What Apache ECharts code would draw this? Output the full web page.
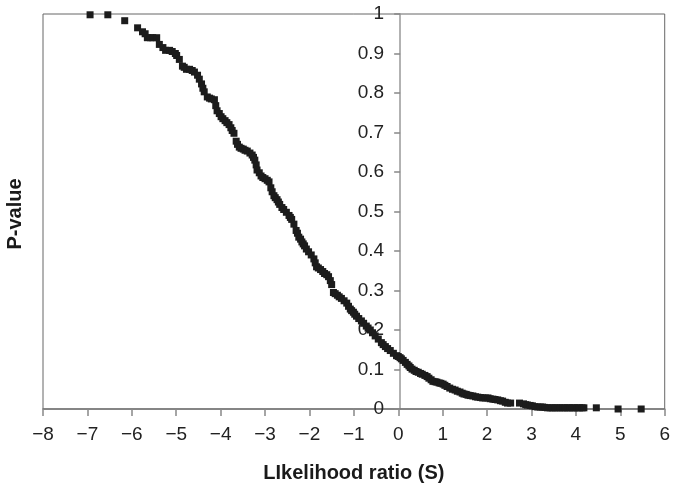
<!DOCTYPE html>
<html>
<head>
<meta charset="utf-8">
<script src="https://cdn.jsdelivr.net/npm/echarts@6/dist/echarts.min.js"></script>
<style>
html,body{margin:0;padding:0;background:#fff;}
#chart{width:673px;height:488px;}
</style>
</head>
<body>
<div id="chart"></div>
<script>
var xTitle = 'LIkelihood ratio (S)';
var yTitle = 'P-value';
var likelihoodRatio = [
-6.94,-6.54,-6.16,-5.87,-5.76,-5.70,-5.65,-5.58,-5.53,-5.44,-5.38,-5.30,-5.24,-5.15,-5.09,-5.02,-4.99,-4.93,-4.86,-4.82,
-4.77,-4.70,-4.64,-4.59,-4.52,-4.48,-4.43,-4.40,-4.37,-4.30,-4.25,-4.21,-4.14,-4.11,-4.08,-4.03,-3.99,-3.95,-3.90,-3.86,
-3.81,-3.77,-3.74,-3.70,-3.65,-3.62,-3.58,-3.54,-3.49,-3.45,-3.40,-3.34,-3.29,-3.26,-3.23,-3.20,-3.18,-3.13,-3.09,-3.05,
-3.00,-2.95,-2.91,-2.87,-2.84,-2.80,-2.77,-2.73,-2.70,-2.67,-2.62,-2.58,-2.52,-2.46,-2.43,-2.40,-2.35,-2.30,-2.27,-2.24,
-2.20,-2.17,-2.14,-2.11,-2.07,-2.02,-1.96,-1.90,-1.87,-1.84,-1.80,-1.75,-1.70,-1.66,-1.61,-1.57,-1.53,-1.50,-1.46,-1.42,
-1.37,-1.33,-1.28,-1.22,-1.16,-1.12,-1.08,-1.05,-1.01,-0.98,-0.94,-0.89,-0.83,-0.78,-0.72,-0.68,-0.63,-0.58,-0.52,-0.45,
-0.38,-0.34,-0.29,-0.24,-0.18,-0.11,-0.04,0.00,0.04,0.07,0.11,0.16,0.20,0.24,0.27,0.31,0.36,0.40,0.45,0.50,
0.54,0.60,0.65,0.69,0.74,0.78,0.83,0.87,0.92,0.96,1.01,1.05,1.10,1.16,1.22,1.28,1.33,1.39,1.44,1.48,
1.53,1.57,1.62,1.68,1.74,1.79,1.85,1.90,1.96,2.02,2.07,2.13,2.18,2.24,2.30,2.35,2.41,2.46,2.53,2.73,
2.82,2.87,2.91,2.97,3.02,3.08,3.14,3.20,3.25,3.30,3.36,3.42,3.47,3.53,3.58,3.64,3.70,3.75,3.81,3.86,
3.92,3.97,4.03,4.08,4.14,4.18,4.46,4.95,5.47
];
var pValue = [
0.998,0.998,0.983,0.965,0.955,0.950,0.940,0.940,0.940,0.940,0.923,0.915,0.908,0.908,0.905,0.900,0.895,0.885,0.868,0.865,
0.860,0.860,0.857,0.853,0.845,0.835,0.823,0.812,0.803,0.790,0.787,0.785,0.783,0.768,0.755,0.748,0.740,0.735,0.730,0.725,
0.720,0.712,0.705,0.698,0.678,0.670,0.663,0.660,0.658,0.655,0.653,0.648,0.643,0.637,0.630,0.618,0.605,0.598,0.590,0.586,
0.583,0.579,0.575,0.560,0.550,0.540,0.535,0.530,0.524,0.518,0.510,0.505,0.498,0.490,0.485,0.480,0.468,0.452,0.445,0.435,
0.430,0.423,0.418,0.413,0.405,0.398,0.390,0.380,0.370,0.360,0.357,0.353,0.348,0.343,0.340,0.335,0.325,0.315,0.295,0.292,
0.288,0.284,0.280,0.274,0.268,0.260,0.253,0.249,0.245,0.240,0.235,0.229,0.223,0.217,0.210,0.205,0.200,0.193,0.185,0.177,
0.168,0.163,0.158,0.153,0.148,0.141,0.135,0.133,0.130,0.127,0.123,0.118,0.113,0.109,0.105,0.101,0.098,0.095,0.093,0.090,
0.088,0.085,0.082,0.078,0.074,0.070,0.069,0.068,0.066,0.065,0.063,0.060,0.057,0.053,0.050,0.048,0.045,0.043,0.040,0.038,
0.037,0.035,0.034,0.033,0.031,0.030,0.029,0.028,0.028,0.028,0.026,0.025,0.024,0.023,0.021,0.020,0.017,0.015,0.015,0.015,
0.013,0.011,0.010,0.009,0.008,0.006,0.005,0.005,0.005,0.004,0.003,0.003,0.003,0.003,0.003,0.003,0.003,0.003,0.003,0.003,
0.003,0.003,0.003,0.003,0.003,0.003,0.003,0.000,0.000
];

var points = likelihoodRatio.map(function(x, i){ return [x, pValue[i]]; });
var font = "'Liberation Sans', Arial, Helvetica, sans-serif";

var W = 673, H = 488;
var gridLeft = 43, gridRight = 5, gridTop = 14, gridBottom = 74;
var xMin = -8, xMax = 6;
var plotW = W - gridLeft - gridRight;
var zeroOffset = -plotW * (0 - xMin) / (xMax - xMin);

var chart = echarts.init(document.getElementById('chart'), null, {renderer:'canvas'});
chart.setOption({
  animation: false,
  backgroundColor: '#fff',
  grid: {left: gridLeft, right: gridRight, top: gridTop, bottom: gridBottom, show: true, borderColor: '#666', borderWidth: 1, backgroundColor: 'transparent'},
  xAxis: {
    type: 'value', min: xMin, max: xMax, interval: 1,
    name: xTitle, nameLocation: 'middle', nameGap: 54,
    nameTextStyle: {fontFamily: font, fontSize: 20, fontWeight: 'bold', color: '#1a1a1a'},
    axisLine: {show: true, onZero: false, lineStyle: {color: '#777', width: 1.5}},
    axisTick: {show: true, length: 7, lineStyle: {color: '#888', width: 1.5}},
    axisLabel: {margin: 16, fontFamily: font, fontSize: 19, color: '#222',
      formatter: function(v){ return v < 0 ? '\u2212' + Math.abs(v) : String(v); }},
    splitLine: {show: false}
  },
  yAxis: {
    type: 'value', min: 0, max: 1, interval: 0.1, position: 'left', offset: zeroOffset,
    axisLine: {show: true, onZero: false, lineStyle: {color: '#999', width: 1.5}},
    axisTick: {show: true, length: 6, lineStyle: {color: '#888', width: 1.5}},
    axisLabel: {margin: 16, fontFamily: font, fontSize: 19, color: '#222'},
    splitLine: {show: false}
  },
  graphic: [{
    type: 'text', x: 15, y: gridTop + (H - gridTop - gridBottom) / 2, rotation: Math.PI / 2,
    style: {text: yTitle, font: "bold 20px " + font, fill: '#1a1a1a', textAlign: 'center', textVerticalAlign: 'middle'}
  }],
  series: [{
    type: 'scatter', data: points, symbol: 'rect', symbolSize: 7,
    itemStyle: {color: '#1c1c1c', opacity: 1}, clip: false
  }]
});
</script>
</body>
</html>
